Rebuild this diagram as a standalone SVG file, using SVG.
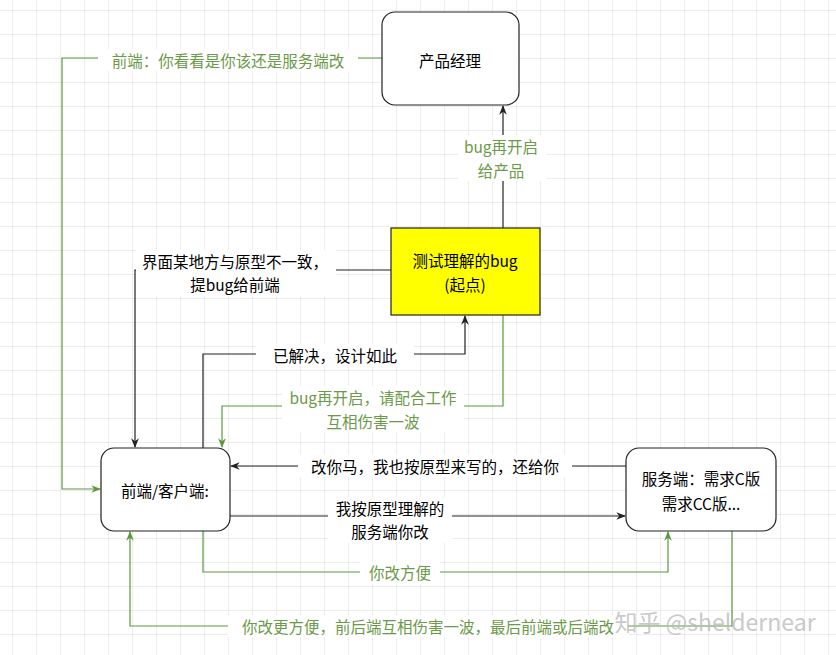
<svg xmlns="http://www.w3.org/2000/svg" width="836" height="655" viewBox="0 0 836 655">
<defs>
<pattern id="grid" x="12" y="10" width="24" height="24" patternUnits="userSpaceOnUse">
<path d="M0 0H24M0 0V24" fill="none" stroke="#dcdcdc" stroke-width="1"/>
</pattern>
<marker id="ak" viewBox="0 0 10 10" refX="9" refY="5" markerWidth="8" markerHeight="8" orient="auto"><path d="M0 1L10 5L0 9L3 5Z" fill="#222"/></marker>
<marker id="ag" viewBox="0 0 10 10" refX="9" refY="5" markerWidth="8" markerHeight="8" orient="auto"><path d="M0 1L10 5L0 9L3 5Z" fill="#5a9a3c"/></marker>
</defs>
<style>
text{font-family:"Noto Sans CJK SC","Liberation Sans",sans-serif;font-size:15.5px;text-anchor:middle;dominant-baseline:central}
.k{fill:none;stroke:#222;stroke-width:1.2;marker-end:url(#ak)}
.g{fill:none;stroke:#5a9a3c;stroke-width:1.2;marker-end:url(#ag)}
.gt{fill:#6b9a49}
.bg{fill:#fff}
.box{fill:#fff;stroke:#222;stroke-width:1.2}
</style>
<rect width="836" height="655" fill="#fff"/>
<rect width="836" height="655" fill="url(#grid)"/>
<g id="connectors">
<path class="g" d="M382 58H62V489H100"/>
<rect class="bg" x="98" y="49" width="260" height="22"/>
<text class="gt" x="228" y="60">前端：你看看是你该还是服务端改</text>
<path class="k" d="M503 228V106"/>
<rect class="bg" x="458" y="135" width="88" height="46"/>
<text class="gt" x="501" y="146">bug再开启</text>
<text class="gt" x="501" y="170">给产品</text>
<path class="k" d="M391 270H135V447"/>
<rect class="bg" x="136" y="250" width="200" height="46"/>
<text x="235" y="261">界面某地方与原型不一致，</text>
<text x="235" y="284">提bug给前端</text>
<path class="k" d="M203 448V354H465V316"/>
<rect class="bg" x="256" y="344" width="158" height="22"/>
<text x="335" y="355">已解决，设计如此</text>
<path class="g" d="M503 315V406H222V447"/>
<rect class="bg" x="282" y="386" width="182" height="46"/>
<text class="gt" x="373" y="397">bug再开启，请配合工作</text>
<text class="gt" x="373" y="421">互相伤害一波</text>
<path class="k" d="M626 466H231"/>
<rect class="bg" x="298" y="455" width="274" height="22"/>
<text x="435" y="466">改你马，我也按原型来写的，还给你</text>
<path class="k" d="M230 516H625"/>
<rect class="bg" x="328" y="497" width="124" height="46"/>
<text x="390" y="508">我按原型理解的</text>
<text x="390" y="531">服务端你改</text>
<path class="g" d="M203 531V572H668V532"/>
<rect class="bg" x="360" y="562" width="80" height="22"/>
<text class="gt" x="400" y="572">你改方便</text>
<path class="g" d="M732 531V626H130V532"/>
<rect class="bg" x="228" y="615" width="400" height="22"/>
<text class="gt" x="428" y="626">你改更方便，前后端互相伤害一波，最后前端或后端改</text>
</g>
<g id="pm"><rect class="box" x="382" y="12" width="137" height="93" rx="13"/><text x="450" y="60">产品经理</text></g>
<g id="test"><rect x="391" y="228" width="149" height="87" fill="#ffff00" stroke="#222" stroke-width="1.2"/><text x="465" y="260">测试理解的bug</text><text x="465" y="284">(起点)</text></g>
<g id="frontend"><rect class="box" x="101" y="448" width="129" height="83" rx="13"/><text x="165" y="490">前端/客户端:</text></g>
<g id="server"><rect class="box" x="626" y="448" width="150" height="83" rx="13"/><text x="701" y="478">服务端：需求C版</text><text x="701" y="503">需求CC版...</text></g>
<text x="715" y="621" style="font-size:23px;fill:#bbb;fill-opacity:0.8">知乎 @sheldernear</text>
</svg>
